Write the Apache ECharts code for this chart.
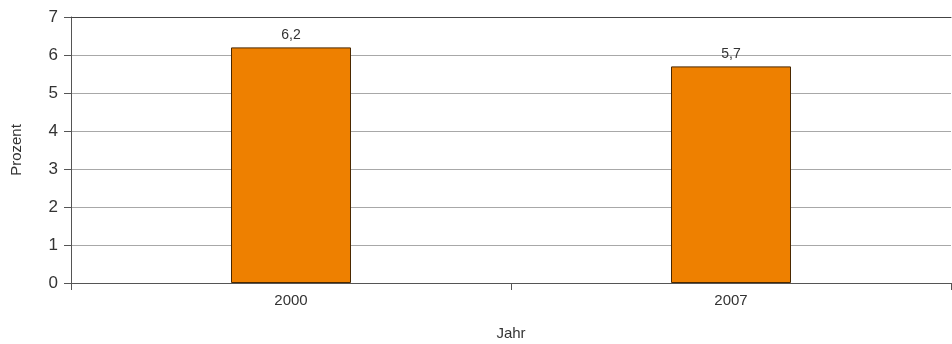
<!DOCTYPE html>
<html>
<head>
<meta charset="utf-8">
<script src="https://cdn.jsdelivr.net/npm/echarts@6/dist/echarts.min.js"></script>
<style>
  html, body { margin: 0; padding: 0; background: #fff; }
  #chart { width: 952px; height: 344px; }
</style>
</head>
<body>
<div id="chart"></div>
<script>
const years = ['2000', '2007']
const values = [6.2, 5.7]
const yTicks = [0, 7, 1]

const chart = echarts.init(document.getElementById('chart'))

const font = '"Liberation Sans", Arial, sans-serif'

chart.setOption({
    animation: false,
    grid: { left: 71, right: 1, top: 17, bottom: 61, outerBoundsMode: 'none', containLabel: false },
    xAxis: [
        {
            type: 'category',
            data: years,
            name: 'Jahr',
            nameLocation: 'middle',
            nameGap: 43,
            nameTextStyle: { color: '#333', fontSize: 15, fontFamily: font },
            axisLine: { lineStyle: { color: '#555', width: 1 } },
            axisTick: { show: true, length: 7, lineStyle: { color: '#555' } },
            axisLabel: { color: '#333', fontSize: 15, fontFamily: font, margin: 10 }
        },
        {
            type: 'category',
            position: 'top',
            data: years,
            axisLine: { lineStyle: { color: '#444', width: 1 } },
            axisTick: { show: false },
            axisLabel: { show: false }
        }
    ],
    yAxis: {
        type: 'value',
        min: yTicks[0],
        max: yTicks[1],
        interval: yTicks[2],
        name: 'Prozent',
        nameLocation: 'middle',
        nameGap: 47,
        nameRotate: 90,
        nameTextStyle: { color: '#333', fontSize: 15, fontFamily: font },
        axisLine: { show: true, lineStyle: { color: '#555' } },
        axisTick: { show: true, length: 7, lineStyle: { color: '#555' } },
        axisLabel: { color: '#333', fontSize: 17, fontFamily: font, margin: 13 },
        splitLine: { lineStyle: { color: '#a8a8a8', width: 1 } }
    },
    series: [
        {
            type: 'bar',
            data: values,
            barWidth: 120,
            itemStyle: { color: '#EE8000', borderColor: '#4a2800', borderWidth: 1 },
            label: {
                show: true,
                position: 'top',
                distance: 5,
                color: '#333',
                fontSize: 14,
                fontFamily: font,
                formatter: p => String(p.value).replace('.', ',')
            }
        }
    ]
})
</script>
</body>
</html>
